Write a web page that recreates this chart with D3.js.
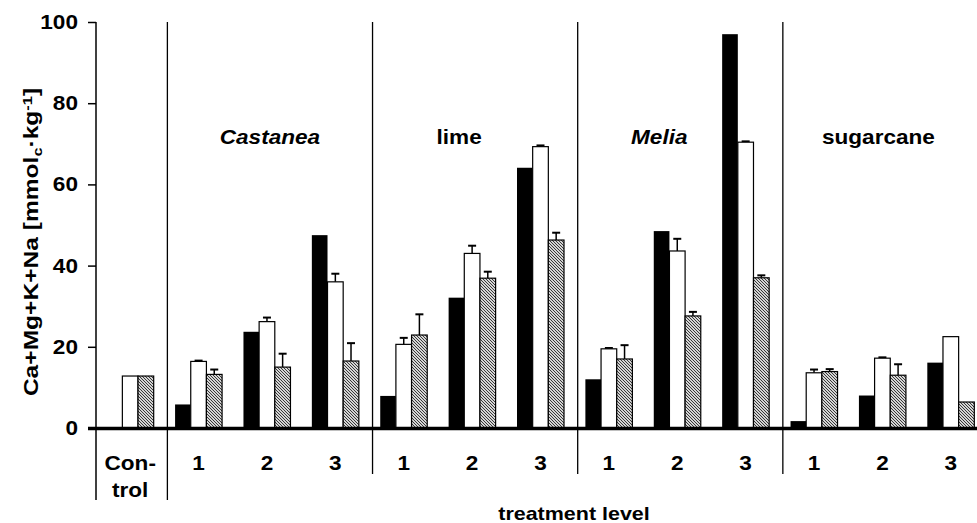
<!DOCTYPE html>
<html>
<head>
    <meta charset="utf-8">
    <script src="https://d3js.org/d3.v7.min.js"></script>
    <style>
        body { margin: 0; background: #fff; }
        text { font-family: "Liberation Sans", Arial, sans-serif; font-weight: bold; fill: #000; }
    </style>
</head>
<body>
    <div id="chart"></div>
    <script type="text/javascript">
        // slots along the x axis: control plus 4 amendments x 3 levels
        var slots = ["Control", "Castanea 1", "Castanea 2", "Castanea 3", "lime 1", "lime 2", "lime 3",
            "Melia 1", "Melia 2", "Melia 3", "sugarcane 1", "sugarcane 2", "sugarcane 3"];
        var treatments = ["Castanea", "lime", "Melia", "sugarcane"];
        var italicNames = ["Castanea", "Melia"];
        var levelLabels = ["1", "2", "3"];
        var yTicks = [0, 20, 40, 60, 80, 100];

        // values (mmolc/kg)
        var blackVals = [null, 5.8, 23.7, 47.5, 7.9, 32.1, 64.1, 12.0, 48.5, 97.0, 1.7, 8.0, 16.1];
        var whiteVals = [12.8, 16.4, 26.2, 36.0, 20.6, 43.0, 69.3, 19.5, 43.6, 70.4, 13.6, 17.2, 22.5];
        var whiteErr = [0, 0.2, 1.0, 2.0, 1.6, 1.9, 0.3, 0.2, 3.0, 0.2, 0.8, 0.2, 0];
        var hatchVals = [12.8, 13.2, 15.0, 16.5, 22.9, 36.9, 46.3, 17.0, 27.6, 37.0, 13.9, 13.0, 6.4];
        var hatchErr = [0, 1.2, 3.3, 4.4, 5.1, 1.6, 1.8, 3.4, 1.0, 0.6, 0.6, 2.7, 0];

        var width = 977, height = 523;
        var stretch = 1.13;

        var svg = d3.select("#chart").append("svg")
            .attr("width", width)
            .attr("height", height);

        var defs = svg.append("defs");
        var pat = defs.append("pattern")
            .attr("id", "hatch")
            .attr("patternUnits", "userSpaceOnUse")
            .attr("width", 3)
            .attr("height", 3);
        pat.append("rect").attr("width", 3).attr("height", 3).attr("fill", "#d4d4d4");
        pat.append("path")
            .attr("d", "M0,0L3,3M-1,2L1,4M2,-1L4,1")
            .attr("stroke", "#262626")
            .attr("stroke-width", 0.9);

        var x = d3.scaleBand()
            .domain(slots)
            .range([96, 985])
            .padding(0);

        var sub = d3.scaleBand()
            .domain(["black", "white", "hatch"])
            .range([-23.5, 23.5]);

        var y = d3.scaleLinear()
            .domain([0, 100])
            .range([428, 22]);

        function center(s) { return x(s) + x.bandwidth() / 2; }

        // stretched bold text helper
        function label(g, tx, ty, str, anchor, sx) {
            return g.append("text")
                .attr("transform", "translate(" + tx + "," + ty + ") scale(" + (sx || stretch) + ",1)")
                .attr("text-anchor", anchor || "middle")
                .style("font-size", "20px")
                .text(str);
        }

        // dividers between treatments
        var dividers = [1, 4, 7, 10];
        svg.append("g").selectAll("line")
            .data(dividers)
            .enter().append("line")
            .attr("x1", function (d) { return x(slots[d]) + 3; })
            .attr("x2", function (d) { return x(slots[d]) + 3; })
            .attr("y1", y(100))
            .attr("y2", function (d) { return d == 1 ? 500 : 474; })
            .attr("stroke", "#000")
            .attr("stroke-width", 1.3);

        // y axis
        var yAxis = svg.append("g")
            .attr("transform", "translate(96,0)")
            .call(d3.axisLeft(y).tickValues(yTicks).tickSize(8).tickSizeOuter(0).tickFormat(d3.format("d")));
        yAxis.select(".domain").remove();
        yAxis.selectAll(".tick line").attr("stroke", "#000").attr("stroke-width", 1.5);
        yAxis.selectAll(".tick text")
            .attr("x", null)
            .attr("transform", "translate(-18,0) scale(" + stretch + ",1)")
            .style("font-size", "20px")
            .style("font-family", "'Liberation Sans', Arial, sans-serif")
            .style("font-weight", "bold")
            .attr("fill", "#000");
        svg.append("line")
            .attr("x1", 96).attr("x2", 96)
            .attr("y1", y(100)).attr("y2", 500)
            .attr("stroke", "#000").attr("stroke-width", 1.5);

        // bars
        var bars = svg.append("g");
        bars.selectAll("rect.black")
            .data(slots)
            .enter().filter(function (d, i) { return blackVals[i] != null; })
            .append("rect")
            .attr("class", "black")
            .attr("x", function (d) { return center(d) + sub("black"); })
            .attr("width", sub.bandwidth())
            .attr("y", function (d) { return y(blackVals[slots.indexOf(d)]); })
            .attr("height", function (d) { return y(0) - y(blackVals[slots.indexOf(d)]); })
            .attr("fill", "#000");

        var series = [
            { key: "white", vals: whiteVals, err: whiteErr, fill: "#fff" },
            { key: "hatch", vals: hatchVals, err: hatchErr, fill: "url(#hatch)" }
        ];

        series.forEach(function (s) {
            var g = bars.append("g");
            g.selectAll("line.err")
                .data(slots)
                .enter().filter(function (d, i) { return s.err[i] > 0; })
                .each(function (d) {
                    var i = slots.indexOf(d);
                    var cx = center(d) + sub(s.key) + sub.bandwidth() / 2;
                    var top = y(s.vals[i] + s.err[i]);
                    g.append("line")
                        .attr("x1", cx).attr("x2", cx)
                        .attr("y1", y(s.vals[i])).attr("y2", top)
                        .attr("stroke", "#000").attr("stroke-width", 1.5);
                    g.append("line")
                        .attr("x1", cx - 4).attr("x2", cx + 4)
                        .attr("y1", top).attr("y2", top)
                        .attr("stroke", "#000").attr("stroke-width", 2);
                });
            g.selectAll("rect")
                .data(slots)
                .enter().append("rect")
                .attr("x", function (d) { return center(d) + sub(s.key); })
                .attr("width", sub.bandwidth())
                .attr("y", function (d, i) { return y(s.vals[i]); })
                .attr("height", function (d, i) { return y(0) - y(s.vals[i]); })
                .attr("fill", s.fill)
                .attr("stroke", "#000")
                .attr("stroke-width", 1.2);
        });

        // baseline
        svg.append("line")
            .attr("x1", 88).attr("x2", width)
            .attr("y1", y(0) + 0.5).attr("y2", y(0) + 0.5)
            .attr("stroke", "#000").attr("stroke-width", 3.5);

        // x labels
        var xl = svg.append("g");
        label(xl, center("Control"), 470, "Con-");
        label(xl, center("Control"), 497, "trol");
        slots.slice(1).forEach(function (s, i) {
            label(xl, center(s), 470, levelLabels[i % 3]);
        });
        label(xl, 574, 520, "treatment level").style("font-size", "19px");

        // treatment names
        var shift = [3, -13, -18, -4];
        treatments.forEach(function (t, i) {
            label(svg, center(t + " 2") + shift[i], 144, t)
                .style("font-style", italicNames.indexOf(t) >= 0 ? "italic" : "normal");
        });

        // y title
        var yt = svg.append("text")
            .attr("transform", "translate(38,242) rotate(-90) scale(1.26,1)")
            .attr("text-anchor", "middle")
            .style("font-size", "19.5px");
        yt.append("tspan").text("Ca+Mg+K+Na [mmol");
        yt.append("tspan").attr("baseline-shift", "-25%").style("font-size", "13px").text("c");
        yt.append("tspan").text("\u00b7kg");
        yt.append("tspan").attr("baseline-shift", "45%").style("font-size", "13px").text("-1");
        yt.append("tspan").text("]");
    </script>
</body>
</html>
